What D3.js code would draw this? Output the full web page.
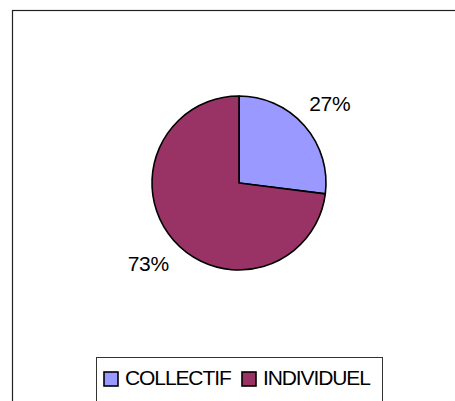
<!DOCTYPE html>
<meta charset="utf-8">
<style>
body { margin: 0; background: #fff; }
text { font-family: "Liberation Sans", Arial, sans-serif; fill: #000; }
</style>
<body>
<script src="https://cdn.jsdelivr.net/npm/d3@7"></script>
<script>

// data
var categories = ["COLLECTIF", "INDIVIDUEL"];
var values = [27, 73];
var colors = ["#9999ff", "#993366"];

var width = 455, height = 401;
var cx = 239, cy = 183, radius = 87;

var svg = d3.select("body").append("svg")
    .attr("width", width)
    .attr("height", height);

// chart frame (runs off the right and bottom edges)
svg.append("rect")
    .attr("x", 12.5).attr("y", 10.5)
    .attr("width", 470).attr("height", 420)
    .attr("fill", "none")
    .attr("stroke", "#222")
    .attr("stroke-width", 1.2);

var data = categories.map(function(c, i) { return {name: c, value: values[i], color: colors[i]}; });

var pie = d3.pie()
    .sort(null)
    .value(function(d) { return d.value; });

var arc = d3.arc().innerRadius(0).outerRadius(radius);
var labelArc = d3.arc().innerRadius(121).outerRadius(121);

var total = d3.sum(values);

var g = svg.append("g")
    .attr("transform", "translate(" + cx + "," + cy + ")");

g.selectAll("path")
    .data(pie(data))
    .enter().append("path")
    .attr("d", arc)
    .attr("fill", function(d) { return d.data.color; })
    .attr("stroke", "#000")
    .attr("stroke-width", 1.6)
    .attr("stroke-linejoin", "round");

g.selectAll("text.lbl")
    .data(pie(data))
    .enter().append("text")
    .attr("class", "lbl")
    .attr("transform", function(d) { return "translate(" + labelArc.centroid(d) + ")"; })
    .attr("text-anchor", "middle")
    .attr("dy", "0.36em")
    .style("font-size", "21px")
    .style("letter-spacing", "-0.3px")
    .text(function(d) { return Math.round(d.data.value / total * 100) + "%"; });

// legend
var legend = svg.append("g");

legend.append("rect")
    .attr("x", 96.5).attr("y", 357.5)
    .attr("width", 286).attr("height", 60)
    .attr("fill", "#fff")
    .attr("stroke", "#333")
    .attr("stroke-width", 1);

var legendX = [104, 242];

var item = legend.selectAll("g.item")
    .data(data)
    .enter().append("g")
    .attr("class", "item")
    .attr("transform", function(d, i) { return "translate(" + legendX[i] + ",372)"; });

item.append("rect")
    .attr("width", 14).attr("height", 14)
    .attr("fill", function(d) { return d.color; })
    .attr("stroke", "#000")
    .attr("stroke-width", 1.6);

item.append("text")
    .attr("x", 21)
    .attr("y", 12.5)
    .style("font-size", "21px")
    .style("letter-spacing", "-1.1px")
    .text(function(d) { return d.name; });

</script>
</body>
